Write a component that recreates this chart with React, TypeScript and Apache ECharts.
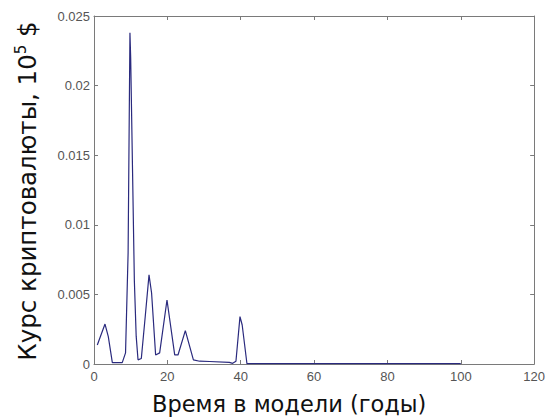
import React, { useEffect, useRef } from "react";
import * as echarts from "echarts";

const timeYears = [0.9, 3.0, 3.9, 5.0, 7.7, 8.6, 9.3, 9.8, 10.0, 10.5, 11.0, 11.5, 12.0, 12.9, 14.0, 15.0, 15.7, 16.8, 17.9, 19.9, 22.0, 22.9, 24.9, 27.1, 28.8, 31.5, 36.9, 37.8, 38.7, 39.8, 40.4, 41.7, 50, 100];
const rate = [0.00137, 0.00287, 0.00196, 0.0001, 0.0001, 0.0008, 0.008, 0.0238, 0.022, 0.014, 0.006, 0.002, 0.0003, 0.0004, 0.0035, 0.0064, 0.0051, 0.00065, 0.0008, 0.0046, 0.00065, 0.00065, 0.0024, 0.0003, 0.0002, 0.00018, 0.00012, 0.00005, 0.0002, 0.0034, 0.0028, 0.00002, 0.00002, 0.00002];

const xTitle = "Время в модели (годы)";
const yTitleMain = "Курс криптовалюты, 10";
const yTitleSup = "5";
const yTitleEnd = " $";

export default function App() {
  const ref = useRef<HTMLDivElement>(null);
  useEffect(() => {
    document.body.style.margin = "0";
    const chart = echarts.init(ref.current!, null, { renderer: "svg" });
    const axisLine = { show: true, onZero: false, lineStyle: { color: "#7a7a7a", width: 1 } };
    const tick = { show: true, inside: true, length: 4, lineStyle: { color: "#7a7a7a" } };
    const labelStyle = { color: "#555", fontFamily: "Liberation Sans", fontSize: 13 };
    chart.setOption({
      animation: false,
      backgroundColor: "#fff",
      grid: { left: 94, right: 12, top: 16, bottom: 55 },
      xAxis: [
        {
          type: "value", min: 0, max: 120, interval: 20, position: "bottom",
          axisLine, axisTick: tick, splitLine: { show: false },
          axisLabel: { ...labelStyle, margin: 6 },
        },
        {
          type: "value", min: 0, max: 120, interval: 20, position: "top",
          axisLine, axisTick: tick, splitLine: { show: false }, axisLabel: { show: false },
        },
      ],
      yAxis: [
        {
          type: "value", min: 0, max: 0.025, interval: 0.005, position: "left",
          axisLine, axisTick: tick, splitLine: { show: false },
          axisLabel: { ...labelStyle, margin: 4 },
        },
        {
          type: "value", min: 0, max: 0.025, interval: 0.005, position: "right",
          axisLine, axisTick: tick, splitLine: { show: false }, axisLabel: { show: false },
        },
      ],
      graphic: [
        {
          type: "text", left: 152, top: 392,
          style: { text: xTitle, fontFamily: "DejaVu Sans", fontSize: 22.5, fill: "#111" },
        },
        {
          type: "text", x: 27, y: 191, rotation: Math.PI / 2,
          style: {
            text: `{m|${yTitleMain}}{s|${yTitleSup}}{m|${yTitleEnd}}`,
            align: "center", verticalAlign: "middle",
            rich: {
              m: { fontFamily: "DejaVu Sans", fontSize: 24.5, fill: "#111" },
              s: { fontFamily: "DejaVu Sans", fontSize: 15, fill: "#111", verticalAlign: "top", padding: [0, 0, 13, 0] },
            },
          },
        },
      ],
      series: [
        {
          type: "line", xAxisIndex: 0, yAxisIndex: 0,
          data: timeYears.map((x, i) => [x, rate[i]]),
          showSymbol: false, symbol: "none",
          lineStyle: { color: "#2a2a7e", width: 1.2 },
        },
      ],
    });
    return () => chart.dispose();
  }, []);
  return <div ref={ref} style={{ width: 548, height: 419 }} />;
}
